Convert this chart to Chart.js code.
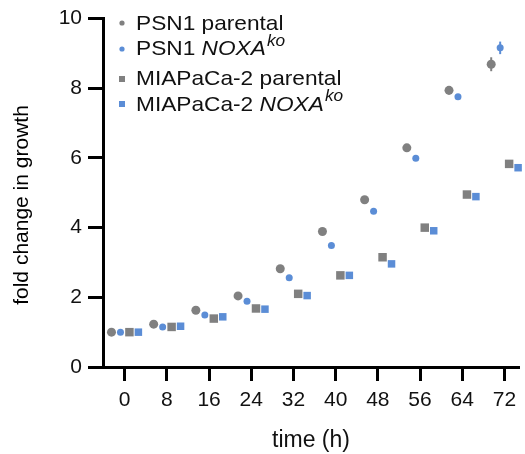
<!DOCTYPE html>
<html><head><meta charset="utf-8">
<script src="https://cdn.jsdelivr.net/npm/chart.js@4/dist/chart.umd.min.js"></script>
<style>html,body{margin:0;padding:0;background:#fff}#wrap{width:525px;height:454px}</style>
</head><body><div id="wrap"><canvas id="c" width="525" height="454"></canvas></div>
<script>
const times = [0, 8, 16, 24, 32, 40, 48, 56, 64, 72];
const psn1Parental = [1.00, 1.23, 1.63, 2.04, 2.82, 3.89, 4.80, 6.29, 7.94, 8.69];
const psn1Noxa     = [1.00, 1.15, 1.49, 1.89, 2.56, 3.49, 4.47, 5.99, 7.76, 9.16];
const miaParental  = [1.00, 1.15, 1.39, 1.68, 2.10, 2.63, 3.15, 4.00, 4.95, 5.83];
const miaNoxa      = [1.00, 1.17, 1.44, 1.66, 2.05, 2.63, 2.96, 3.91, 4.89, 5.72];
const psn1ParentalErr = [0, 0, 0, 0, 0, 0, 0, 0, 0.12, 0.20];
const psn1NoxaErr     = [0, 0, 0, 0, 0, 0, 0, 0, 0, 0.18];
const miaParentalErr  = [0, 0, 0, 0, 0, 0, 0, 0, 0, 0];
const miaNoxaErr      = [0, 0, 0, 0, 0, 0, 0, 0, 0, 0];
const seriesNames = ['PSN1 parental', 'PSN1 ', 'MIAPaCa-2 parental', 'MIAPaCa-2 '];
const xTicks = [0, 8, 16, 24, 32, 40, 48, 56, 64, 72];
const yTicks = [0, 2, 4, 6, 8, 10];
const dodge = [-2.5, -0.8, 0.9, 2.6];

const GRAY = '#808080', BLUE = '#5B8DD6';
const FONT = '"Liberation Sans", Arial, sans-serif';

function mk(k, label, vals, errs, style, radius, color) {
  return {
    label, errs,
    data: times.map((t, i) => ({x: t + dodge[k], y: vals[i]})),
    pointStyle: style, pointRadius: radius, pointHoverRadius: radius,
    backgroundColor: color, borderColor: color, borderWidth: 0,
    showLine: false, clip: false
  };
}

const datasets = [
  mk(0, seriesNames[0], psn1Parental, psn1ParentalErr, 'circle', 4.5, GRAY),
  mk(1, seriesNames[1], psn1Noxa, psn1NoxaErr, 'circle', 3.5, BLUE),
  mk(2, seriesNames[2], miaParental, miaParentalErr, 'rect', 6, GRAY),
  mk(3, seriesNames[3], miaNoxa, miaNoxaErr, 'rect', 5.3, BLUE)
];

const errPlugin = {
  id: 'errbars',
  beforeDatasetsDraw(chart) {
    const ctx = chart.ctx, ys = chart.scales.y, xs = chart.scales.x;
    chart.data.datasets.forEach(ds => {
      ds.data.forEach((p, i) => {
        const e = ds.errs[i];
        if (!e) return;
        const px = xs.getPixelForValue(p.x);
        ctx.save();
        ctx.strokeStyle = ds.backgroundColor;
        ctx.lineWidth = 2;
        ctx.beginPath();
        ctx.moveTo(px, ys.getPixelForValue(p.y - e));
        ctx.lineTo(px, ys.getPixelForValue(p.y + e));
        ctx.stroke();
        ctx.restore();
      });
    });
  }
};

const textPlugin = {
  id: 'texts',
  afterDraw(chart) {
    const ctx = chart.ctx;
    ctx.save();
    ctx.fillStyle = '#000';
    ctx.font = '21px ' + FONT;
    ctx.textAlign = 'center';
    ctx.textBaseline = 'alphabetic';
    ctx.translate(28, 205);
    ctx.rotate(-Math.PI / 2);
    ctx.fillText('fold change in growth', 0, 0);
    ctx.restore();

    const rows = [
      {base: 30, mark: 23, shape: 'c', color: GRAY, text: seriesNames[0]},
      {base: 55, mark: 49, shape: 'c', color: BLUE, text: seriesNames[1], it: 'NOXA', sup: 9},
      {base: 85, mark: 79, shape: 's', color: GRAY, text: seriesNames[2]},
      {base: 111, mark: 104, shape: 's', color: BLUE, text: seriesNames[3], it: 'NOXA', sup: 10}
    ];
    const SX = 1.08;
    rows.forEach(r => {
      ctx.save();
      ctx.textBaseline = 'alphabetic';
      ctx.textAlign = 'left';
      ctx.fillStyle = r.color;
      if (r.shape === 'c') {
        ctx.beginPath(); ctx.arc(122, r.mark, 2.6, 0, Math.PI * 2); ctx.fill();
      } else {
        ctx.fillRect(119, r.mark - 3, 6, 6);
      }
      ctx.fillStyle = '#111';
      ctx.translate(136, r.base);
      ctx.scale(SX, 1);
      ctx.font = '21px ' + FONT;
      let x = 0;
      ctx.fillText(r.text, x, 0);
      x += ctx.measureText(r.text).width;
      if (r.it) {
        ctx.font = 'italic 21px ' + FONT;
        ctx.fillText(r.it, x, 0);
        x += ctx.measureText(r.it).width + 1;
        ctx.font = 'italic 16px ' + FONT;
        ctx.fillText('ko', x, -r.sup);
      }
      ctx.restore();
    });
  }
};

new Chart(document.getElementById('c'), {
  type: 'scatter',
  data: {datasets},
  options: {
    responsive: false, animation: false, devicePixelRatio: 1,
    layout: {padding: {top: 17, right: 0, left: 0, bottom: 0}},
    plugins: {legend: {display: false}, tooltip: {enabled: false}},
    scales: {
      x: {
        type: 'linear', position: 'bottom', min: -4.11, max: 74.77,
        afterBuildTicks: s => { s.ticks = xTicks.map(v => ({value: v})); },
        afterFit: s => { s.height = 87; },
        ticks: {font: {size: 21, family: FONT}, color: '#111', padding: 7, maxRotation: 0, autoSkip: false},
        grid: {drawOnChartArea: false, drawTicks: true, tickLength: 14, tickWidth: 3, tickColor: '#000'},
        border: {color: '#000', width: 3},
        title: {display: true, text: 'time (h)', color: '#111', font: {size: 23, family: FONT}, padding: {top: 0, bottom: 0}}
      },
      y: {
        type: 'linear', position: 'left', min: 0, max: 10,
        afterBuildTicks: s => { s.ticks = yTicks.map(v => ({value: v})); },
        afterFit: s => { s.width = 103; },
        ticks: {font: {size: 21, family: FONT}, color: '#111', padding: 6},
        grid: {drawOnChartArea: false, drawTicks: true, tickLength: 15, tickWidth: 3, tickColor: '#000'},
        border: {color: '#000', width: 3}
      }
    }
  },
  plugins: [errPlugin, textPlugin]
});
</script></body></html>
